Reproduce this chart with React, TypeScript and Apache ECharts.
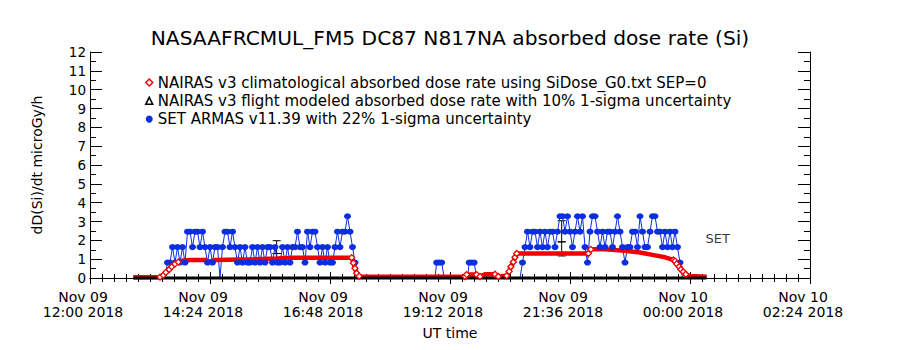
import React, { useEffect, useRef } from "react";
import * as echarts from "echarts";

const TITLE = "NASAAFRCMUL_FM5 DC87 N817NA absorbed dose rate (Si)";
const Y_NAME = "dD(Si)/dt microGy/h";
const X_NAME = "UT time";
const RED_NAME = "NAIRAS v3 climatological absorbed dose rate using SiDose_G0.txt SEP=0";
const BLACK_NAME = "NAIRAS v3 flight modeled absorbed dose rate with 10% 1-sigma uncertainty";
const BLUE_NAME = "SET ARMAS v11.39 with 22% 1-sigma uncertainty";
const SET_TEXT = "SET";

const xStart = "11-09 12:00";
const xEnd = "11-10 02:24";
const xTickHours = 2.4;
const yMin = 0;
const yMax = 12;
const yStep = 1;

// NAIRAS climatological (red diamonds)
const redTimes = [
  "11-09 12:52", "11-09 13:24", "11-09 13:28", "11-09 13:31", "11-09 13:35", "11-09 13:38",
  "11-09 13:42", "11-09 13:46", "11-09 13:52", "11-09 14:00", "11-09 14:18", "11-09 14:24",
  "11-09 14:30", "11-09 15:16", "11-09 15:44", "11-09 16:04", "11-09 17:14", "11-09 17:16",
  "11-09 17:18", "11-09 17:20", "11-09 17:23", "11-09 17:26", "11-09 19:30", "11-09 19:32",
  "11-09 19:44", "11-09 19:48", "11-09 19:54", "11-09 20:06", "11-09 20:10", "11-09 20:20",
  "11-09 20:23", "11-09 20:25", "11-09 20:28", "11-09 20:30", "11-09 20:32", "11-09 21:58",
  "11-09 22:01", "11-09 22:18", "11-09 22:42", "11-09 23:00", "11-09 23:18", "11-09 23:30",
  "11-09 23:40", "11-09 23:42", "11-09 23:44", "11-09 23:47", "11-09 23:49", "11-09 23:52",
  "11-09 23:55", "11-10 00:00", "11-10 00:20",
];
const redValues = [
  0.04, 0.05, 0.15, 0.3, 0.45, 0.6,
  0.75, 0.85, 0.93, 0.96, 0.96, 0.87,
  0.96, 0.99, 1.04, 1.08, 1.08, 0.8,
  0.52, 0.25, 0.1, 0.07, 0.08, 0.18,
  0.18, 0.08, 0.2, 0.2, 0.08, 0.12,
  0.35, 0.6, 0.85, 1.1, 1.3, 1.3,
  1.52, 1.52, 1.45, 1.35, 1.2, 1.1,
  0.96, 0.9, 0.75, 0.6, 0.45, 0.33,
  0.2, 0.1, 0.07,
];

// NAIRAS flight modeled (black)
const blackTimes = ["11-09 12:52", "11-10 00:20"];
const blackValues = [0, 0];

// SET ARMAS (blue), 3-minute samples
const blueStepMin = 3;
const blueSeg1Start = "11-09 13:30";
const blueSeg1Values = [
  0,
  0.82, 0.82, 1.64, 0.82, 1.64, 0.82, 1.64, 0.82, 2.46, 2.46,
  1.64, 2.46, 2.46, 1.64, 2.46, 1.64, 0.82, 1.64, 0.82, 1.64,
  1.64, 0, 1.64, 2.46, 2.46, 1.64, 2.46, 1.64, 0.82, 1.64,
  0.82, 1.64, 0.82, 0.82, 1.64, 0.82, 1.64, 0.82, 1.64, 0.82,
  1.64, 1.64, 0.82, 1.64, 0.82, 0.82, 1.64, 0.82, 1.64, 0.82,
  1.64, 1.64, 2.46, 1.64, 1.64, 0.82, 2.46, 1.64, 2.46, 2.46,
  1.64, 0.82, 1.64, 0.82, 1.64, 0.82, 0.82, 1.64, 2.46, 1.64,
  2.46, 2.46, 3.28, 2.46, 1.64, 0.82, 0,
];
const blueMidTimes = [
  "11-09 18:54", "11-09 18:56", "11-09 18:59", "11-09 19:02", "11-09 19:05",
  "11-09 19:33", "11-09 19:35", "11-09 19:38", "11-09 19:41", "11-09 19:44",
];
const blueMidValues = [0, 0.82, 0.82, 0.82, 0, 0, 0.82, 0.82, 0.82, 0];
const blueSeg2Start = "11-09 20:36";
const blueSeg2Values = [
  0, 0.82, 1.64, 2.46, 1.64, 2.46, 2.46, 1.64, 2.46, 1.64,
  2.46, 1.64, 2.46, 2.46, 1.64, 2.46, 3.28, 3.28, 2.46, 3.28,
  2.46, 1.64, 2.46, 3.28, 2.46, 3.28, 1.64, 0.82, 2.46, 3.28,
  3.28, 2.46, 1.64, 2.46, 1.64, 2.46, 2.46, 1.64, 2.46, 3.28,
  2.46, 1.64, 0.82, 1.64, 1.64, 2.46, 2.46, 1.64, 3.28, 2.46,
  1.64, 1.64, 2.46, 3.28, 3.28, 2.46, 2.46, 1.64, 2.46, 1.64,
  2.46, 1.64, 2.46, 1.64, 0.82, 0,
];

// Error bars (black)
const ebTimes = ["11-09 15:44", "11-09 15:44", "11-09 21:26", "11-09 21:26"];
const ebLow = [1.3, 0.9, 1.92, 1.17];
const ebHigh = [1.98, 1.3, 3.04, 1.92];

const setLabelTime = "11-10 00:18";
const setLabelValue = 2.1;

const FONT = "DejaVu Sans";
const RED = "#f00000";
const BLUE = "#0a2ee0";
const MIN = 60000;
const MONTHS = ["Jan", "Feb", "Mar", "Apr", "May", "Jun", "Jul", "Aug", "Sep", "Oct", "Nov", "Dec"];

function t(s: string): number {
  const [md, hm] = s.split(" ");
  const [mo, d] = md.split("-").map(Number);
  const [h, m] = hm.split(":").map(Number);
  return Date.UTC(2018, mo - 1, d, h, m);
}
const p2 = (n: number) => (n < 10 ? "0" + n : "" + n);

export default function App() {
  const ref = useRef<HTMLDivElement>(null);
  useEffect(() => {
    if (!ref.current) return;
    const chart = echarts.init(ref.current, undefined, { renderer: "svg" });

    const redData = redTimes.map((s, i) => {
      const x = t(s);
      const v = redValues[i];
      let steep = false;
      if (i > 0) {
        const dv = Math.abs(v - redValues[i - 1]) / ((x - t(redTimes[i - 1])) / MIN);
        if (dv > 0.02) steep = true;
      }
      if (i < redTimes.length - 1) {
        const dv = Math.abs(redValues[i + 1] - v) / ((t(redTimes[i + 1]) - x) / MIN);
        if (dv > 0.02) steep = true;
      }
      return { value: [x, v], symbol: steep ? "diamond" : "none" };
    });

    const bluePts: [number, number][] = [];
    blueSeg1Values.forEach((v, i) => bluePts.push([t(blueSeg1Start) + i * blueStepMin * MIN, v]));
    blueMidTimes.forEach((s, i) => bluePts.push([t(s), blueMidValues[i]]));
    blueSeg2Values.forEach((v, i) => bluePts.push([t(blueSeg2Start) + i * blueStepMin * MIN, v]));
    const blueData = bluePts.map(([x, v]) => ({ value: [x, v], symbol: v === 0 ? "none" : "circle" }));

    const blackData = blackTimes.map((s, i) => [t(s), blackValues[i]]);
    const ebData = ebTimes.map((s, i) => [t(s), ebLow[i], ebHigh[i]]);

    const xMin = t(xStart);
    const xMax = t(xEnd);
    const xInterval = xTickHours * 3600 * 1000;

    const axisLineStyle = { color: "#000", width: 1 };

    chart.setOption({
      animation: false,
      backgroundColor: "#fff",
      title: {
        text: TITLE,
        left: "center",
        top: 23,
        textStyle: { fontFamily: FONT, fontSize: 20.2, fontWeight: "normal", color: "#000" },
      },
      legend: {
        orient: "vertical",
        left: 140,
        top: 70,
        itemWidth: 7,
        itemHeight: 7,
        itemGap: 3.3,
        selectedMode: false,
        textStyle: { fontFamily: FONT, fontSize: 15, color: "#000" },
        data: [
          { name: RED_NAME, icon: "diamond", itemStyle: { color: "#fff", borderColor: RED, borderWidth: 1.5 } },
          { name: BLACK_NAME, icon: "triangle", itemStyle: { color: "#fff", borderColor: "#000", borderWidth: 1.5 } },
          { name: BLUE_NAME, icon: "circle", itemStyle: { color: BLUE, borderWidth: 0 } },
        ],
      },
      grid: { left: 90, right: 90, top: 52, bottom: 72 },
      xAxis: [
        {
          type: "value",
          position: "bottom",
          min: xMin,
          max: xMax,
          interval: xInterval,
          axisLine: { show: true, lineStyle: axisLineStyle },
          axisTick: { show: true, inside: true, length: 6, lineStyle: axisLineStyle },
          minorTick: { show: true, splitNumber: 10, length: 4, lineStyle: axisLineStyle },
          splitLine: { show: false },
          axisLabel: {
            show: true,
            showMinLabel: true,
            showMaxLabel: true,
            margin: 11,
            fontFamily: FONT,
            fontSize: 14,
            lineHeight: 15,
            color: "#000",
            padding: [0, 14, 0, 0],
            formatter: (v: number) => {
              const d = new Date(v);
              return `${MONTHS[d.getUTCMonth()]} ${p2(d.getUTCDate())}\n${p2(d.getUTCHours())}:${p2(
                d.getUTCMinutes()
              )} ${d.getUTCFullYear()}`;
            },
          },
          name: X_NAME,
          nameLocation: "middle",
          nameGap: 48,
          nameTextStyle: { fontFamily: FONT, fontSize: 14, color: "#000" },
        },
        {
          type: "value",
          position: "top",
          min: xMin,
          max: xMax,
          interval: xInterval,
          axisLine: { show: true, lineStyle: axisLineStyle },
          axisTick: { show: true, inside: true, length: 6, lineStyle: axisLineStyle },
          minorTick: { show: true, splitNumber: 10, length: 4, lineStyle: axisLineStyle },
          splitLine: { show: false },
          axisLabel: { show: false },
        },
      ],
      yAxis: [
        {
          type: "value",
          position: "left",
          min: yMin,
          max: yMax,
          interval: yStep,
          axisLine: { show: true, lineStyle: axisLineStyle },
          axisTick: { show: true, inside: true, length: 12, lineStyle: axisLineStyle },
          minorTick: { show: true, splitNumber: 2, length: 6, lineStyle: axisLineStyle },
          splitLine: { show: false },
          axisLabel: { margin: 4, fontFamily: FONT, fontSize: 13.5, color: "#000" },
          name: Y_NAME,
          nameLocation: "middle",
          nameGap: 46,
          nameTextStyle: { fontFamily: FONT, fontSize: 14, color: "#000" },
        },
        {
          type: "value",
          position: "right",
          min: yMin,
          max: yMax,
          interval: yStep,
          axisLine: { show: true, lineStyle: axisLineStyle },
          axisTick: { show: true, inside: true, length: 12, lineStyle: axisLineStyle },
          minorTick: { show: true, splitNumber: 2, length: 6, lineStyle: axisLineStyle },
          splitLine: { show: false },
          axisLabel: { show: false },
        },
      ],
      series: [
        {
          name: BLUE_NAME,
          type: "line",
          xAxisIndex: 0,
          yAxisIndex: 0,
          data: blueData,
          clip: false,
          symbol: "circle",
          symbolSize: [7, 6],
          showAllSymbol: true,
          lineStyle: { color: BLUE, width: 1 },
          itemStyle: { color: BLUE, borderWidth: 0 },
          emphasis: { disabled: true },
          silent: true,
        },
        {
          name: RED_NAME,
          type: "line",
          xAxisIndex: 0,
          yAxisIndex: 0,
          data: redData,
          clip: false,
          symbolSize: 6,
          showAllSymbol: true,
          lineStyle: { color: RED, width: 4.5 },
          itemStyle: { color: "#fff", borderColor: RED, borderWidth: 1.3 },
          emphasis: { disabled: true },
          silent: true,
        },
        {
          name: BLACK_NAME,
          type: "line",
          xAxisIndex: 0,
          yAxisIndex: 0,
          data: blackData,
          clip: false,
          symbol: "triangle",
          showSymbol: false,
          lineStyle: { color: "#000", width: 3 },
          itemStyle: { color: "#fff", borderColor: "#000", borderWidth: 1.5 },
          emphasis: { disabled: true },
          silent: true,
        },
        {
          name: "errorbars",
          type: "custom",
          xAxisIndex: 0,
          yAxisIndex: 0,
          data: ebData,
          encode: { x: 0, y: [1, 2] },
          silent: true,
          renderItem: (params: any, api: any) => {
            const x = api.value(0);
            const lo = api.coord([x, api.value(1)]);
            const hi = api.coord([x, api.value(2)]);
            const cap = 4;
            const st = { stroke: "#000", lineWidth: 1 };
            return {
              type: "group",
              children: [
                { type: "line", shape: { x1: lo[0], y1: lo[1], x2: hi[0], y2: hi[1] }, style: st },
                { type: "line", shape: { x1: lo[0] - cap, y1: lo[1], x2: lo[0] + cap, y2: lo[1] }, style: st },
                { type: "line", shape: { x1: hi[0] - cap, y1: hi[1], x2: hi[0] + cap, y2: hi[1] }, style: st },
              ],
            };
          },
        },
        {
          name: "setlabel",
          type: "scatter",
          xAxisIndex: 0,
          yAxisIndex: 0,
          data: [[t(setLabelTime), setLabelValue]],
          symbolSize: 1,
          itemStyle: { color: "rgba(0,0,0,0)" },
          silent: true,
          label: {
            show: true,
            position: "right",
            distance: 0,
            formatter: SET_TEXT,
            fontFamily: FONT,
            fontSize: 13,
            color: "#000",
          },
        },
      ],
    });
    return () => chart.dispose();
  }, []);
  return (
    <div
      ref={ref}
      style={{ position: "fixed", left: 0, top: 0, width: 900, height: 350, background: "#fff" }}
    />
  );
}
